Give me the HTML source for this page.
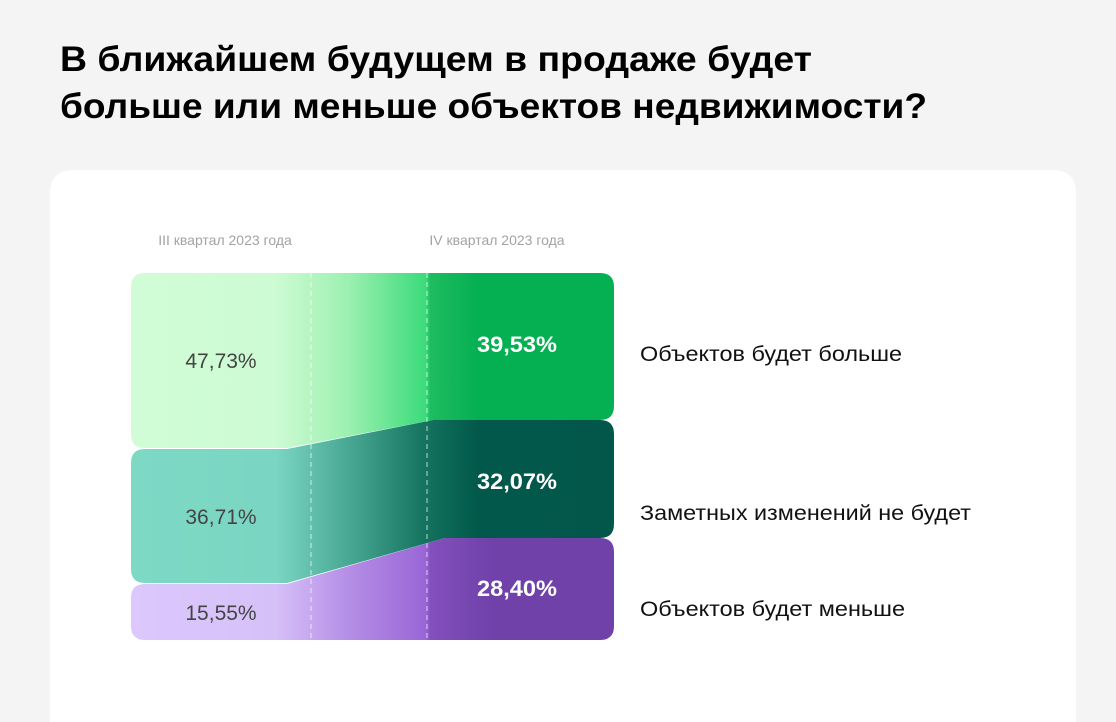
<!DOCTYPE html>
<html><head><meta charset="utf-8"><style>
html,body{margin:0;padding:0;background:#f4f4f4;overflow:hidden;width:1116px;height:722px;}
svg{display:block;font-family:"Liberation Sans","DejaVu Sans",sans-serif;}
</style></head><body>
<svg width="1116" height="722" viewBox="0 0 1116 722" xmlns="http://www.w3.org/2000/svg">
<defs>
<linearGradient id="g1" x1="131" x2="614" y1="0" y2="0" gradientUnits="userSpaceOnUse">
<stop offset="0" stop-color="#d0fcd6"/><stop offset="0.3" stop-color="#cdfbd3"/><stop offset="0.45" stop-color="#9cf0b0"/><stop offset="0.61" stop-color="#3cdb7c"/><stop offset="0.62" stop-color="#1ebc5f"/><stop offset="0.72" stop-color="#04b052"/><stop offset="1" stop-color="#04b052"/></linearGradient>
<linearGradient id="g2" x1="131" x2="614" y1="0" y2="0" gradientUnits="userSpaceOnUse">
<stop offset="0" stop-color="#7dd8c4"/><stop offset="0.3" stop-color="#7ad6c2"/><stop offset="0.45" stop-color="#48a894"/><stop offset="0.61" stop-color="#13735e"/><stop offset="0.72" stop-color="#02584a"/><stop offset="1" stop-color="#02574a"/></linearGradient>
<linearGradient id="g3" x1="131" x2="614" y1="0" y2="0" gradientUnits="userSpaceOnUse">
<stop offset="0" stop-color="#dcc8fd"/><stop offset="0.3" stop-color="#d6c0f8"/><stop offset="0.45" stop-color="#b58ee6"/><stop offset="0.61" stop-color="#9966d6"/><stop offset="0.62" stop-color="#8350bc"/><stop offset="0.75" stop-color="#6f41a9"/><stop offset="1" stop-color="#6f41a9"/></linearGradient>
</defs>
<rect width="1116" height="722" fill="#f4f4f4"/>
<text x="60" y="71" font-size="35" font-weight="bold" fill="#000" textLength="752" lengthAdjust="spacingAndGlyphs">В ближайшем будущем в продаже будет</text>
<text x="60" y="118" font-size="35" font-weight="bold" fill="#000" textLength="867" lengthAdjust="spacingAndGlyphs">больше или меньше объектов недвижимости?</text>
<path d="M50,722 L50,194 Q50,170 74,170 L1052,170 Q1076,170 1076,194 L1076,722 Z" fill="#fff"/>
<text x="225" y="245" font-size="14" fill="#a3a3a3" text-anchor="middle">III квартал 2023 года</text>
<text x="497" y="245" font-size="14" fill="#a3a3a3" text-anchor="middle">IV квартал 2023 года</text>
<path d="M131,598 Q131,584 145,584 L287,584 L445,538 L600,538 Q614,538 614,552 L614,626 Q614,640 600,640 L145,640 Q131,640 131,626 Z" fill="url(#g3)"/>
<path d="M131,463 Q131,449 145,449 L287,449 L433,420 L600,420 Q614,420 614,434 L614,524 Q614,538 600,538 L445,538 L287,583 L145,583 Q131,583 131,569 Z" fill="url(#g2)"/>
<path d="M131,287 Q131,273 145,273 L600,273 Q614,273 614,287 L614,406 Q614,420 600,420 L433,420 L287,448 L145,448 Q131,448 131,434 Z" fill="url(#g1)"/>
<line x1="311" y1="273" x2="311" y2="640" stroke="#fff" stroke-opacity="0.55" stroke-width="1.3" stroke-dasharray="5,4"/>
<line x1="427" y1="273" x2="427" y2="640" stroke="#fff" stroke-opacity="0.55" stroke-width="1.3" stroke-dasharray="5,4"/>
<g font-size="21" fill="#444" text-anchor="middle">
<text x="221" y="368">47,73%</text>
<text x="221" y="524">36,71%</text>
<text x="221" y="620">15,55%</text>
</g>
<g font-size="22" font-weight="bold" fill="#fff">
<text x="477" y="352" textLength="80" lengthAdjust="spacingAndGlyphs">39,53%</text>
<text x="477" y="489" textLength="80" lengthAdjust="spacingAndGlyphs">32,07%</text>
<text x="477" y="596" textLength="80" lengthAdjust="spacingAndGlyphs">28,40%</text>
</g>
<g font-size="21" fill="#111">
<text x="640" y="361" textLength="262" lengthAdjust="spacingAndGlyphs">Объектов будет больше</text>
<text x="640" y="520" textLength="331" lengthAdjust="spacingAndGlyphs">Заметных изменений не будет</text>
<text x="640" y="616" textLength="265" lengthAdjust="spacingAndGlyphs">Объектов будет меньше</text>
</g>
</svg>
</body></html>
